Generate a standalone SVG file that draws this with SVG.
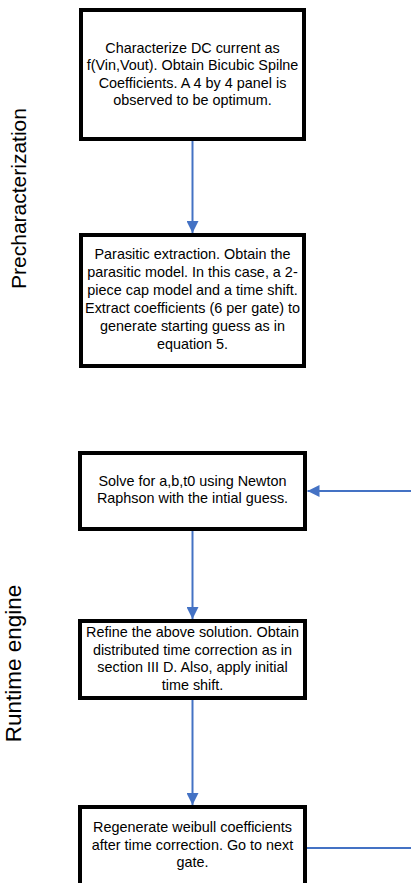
<svg xmlns="http://www.w3.org/2000/svg" width="411" height="883" viewBox="0 0 411 883">
<defs>
<style>
.box{fill:#ffffff;stroke:#000000;stroke-width:4}
.t{font-family:"Liberation Sans",Arial,sans-serif;font-size:14.4px;fill:#000000;text-anchor:middle}
.lbl{font-family:"Liberation Sans",Arial,sans-serif;fill:#000000;text-anchor:middle}
.conn{fill:none;stroke:#4472C4;stroke-width:2}
</style>
<marker id="ah" markerUnits="userSpaceOnUse" markerWidth="12" markerHeight="12" refX="12" refY="6" orient="auto">
<path d="M0,0 L12,6 L0,12 Z" fill="#4472C4"/>
</marker>
</defs>
<rect x="0" y="0" width="411" height="883" fill="#ffffff"/>
<g id="labels">
<text class="lbl" font-size="21" transform="translate(26,198.5) rotate(-90)">Precharacterization</text>
<text class="lbl" font-size="22.5" transform="translate(21,663.5) rotate(-90)">Runtime engine</text>
</g>
<g id="connectors">
<line class="conn" x1="192.5" y1="141" x2="192.5" y2="233" marker-end="url(#ah)"/>
<line class="conn" x1="192.5" y1="531" x2="192.5" y2="619" marker-end="url(#ah)"/>
<line class="conn" x1="192.5" y1="700" x2="192.5" y2="805" marker-end="url(#ah)"/>
<line class="conn" x1="411" y1="491" x2="307.5" y2="491" marker-end="url(#ah)"/>
<line class="conn" x1="307" y1="848" x2="411" y2="848"/>
</g>
<g id="node1">
<rect class="box" x="81" y="10" width="223" height="129"/>
<text class="t" x="192.5" y="52.5">Characterize DC current as</text>
<text class="t" x="192.5" y="70.1">f(Vin,Vout). Obtain Bicubic Spilne</text>
<text class="t" x="192.5" y="87.7">Coefficients. A 4 by 4 panel is</text>
<text class="t" x="192.5" y="105.3">observed to be optimum.</text>
</g>
<g id="node2">
<rect class="box" x="81" y="235" width="223" height="131"/>
<text class="t" x="192.5" y="259.3">Parasitic extraction. Obtain the</text>
<text class="t" x="192.5" y="277.3">parasitic model. In this case, a 2-</text>
<text class="t" x="192.5" y="295.3">piece cap model and a time shift.</text>
<text class="t" x="192.5" y="313.3">Extract coefficients (6 per gate) to</text>
<text class="t" x="192.5" y="331.3">generate starting guess as in</text>
<text class="t" x="192.5" y="349.3">equation 5.</text>
</g>
<g id="node3">
<rect class="box" x="80" y="453" width="225" height="76"/>
<text class="t" x="192.5" y="485.5">Solve for a,b,t0 using Newton</text>
<text class="t" x="192.5" y="503.3">Raphson with the intial guess.</text>
</g>
<g id="node4">
<rect class="box" x="80" y="621" width="225" height="77"/>
<text class="t" x="192.5" y="636.7">Refine the above solution. Obtain</text>
<text class="t" x="192.5" y="654.5">distributed time correction as in</text>
<text class="t" x="192.5" y="672.3">section III D. Also, apply initial</text>
<text class="t" x="192.5" y="690">time shift.</text>
</g>
<g id="node5">
<rect class="box" x="80" y="807" width="225" height="100"/>
<text class="t" x="192.5" y="832.3">Regenerate weibull coefficients</text>
<text class="t" x="192.5" y="850">after time correction. Go to next</text>
<text class="t" x="192.5" y="867.3">gate.</text>
</g>
</svg>
